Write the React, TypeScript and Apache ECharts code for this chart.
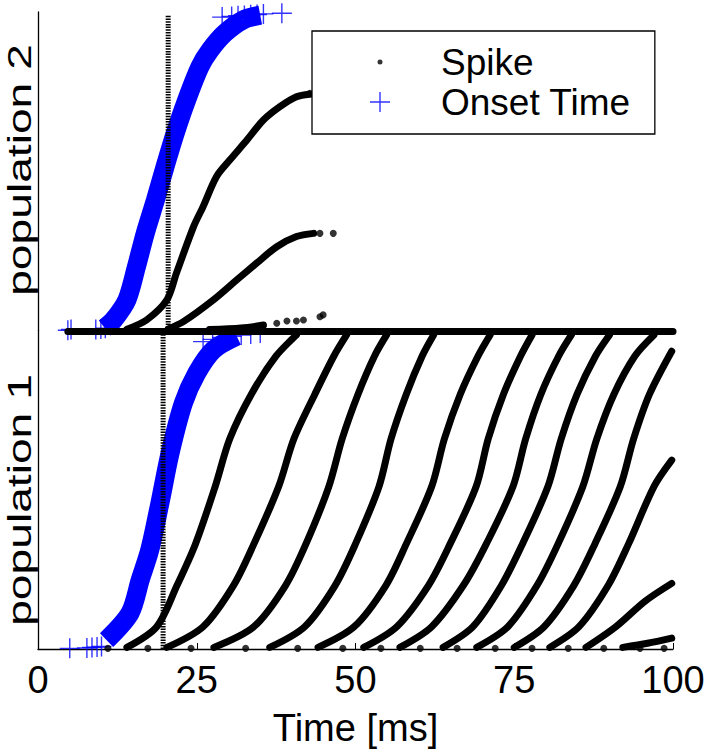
import React, { useEffect, useRef } from "react";
import * as echarts from "echarts";

const FONT = "'Liberation Sans', Arial, Helvetica, sans-serif";
const BLUE = "#0000ff";

const X_TICKS = [0, 25, 50, 75, 100];
const LEGEND_NAMES = ["Spike", "Onset Time"];
const POP_LABELS = ["population 2", "population 1"];
const X_LABEL = "Time [ms]";

// ---- population 2 (top panel): [time ms, neuron rank 0..1000]
const pop2OnsetBand = [[10.5, 8], [11.9, 33], [14.0, 96], [15.5, 200], [16.9, 306], [18.5, 410], [20.0, 514], [21.6, 619], [23.4, 723], [25.5, 828], [27.1, 880], [29.4, 933], [32.3, 975], [35.0, 990]];
const pop2OnsetMarks = [[4.7, 1], [5.2, 3], [9.1, 3], [9.9, 5], [10.6, 7], [29.0, 984], [30.5, 986], [31.5, 988], [32.5, 989], [33.5, 991], [34.5, 992], [35.5, 994], [38.4, 996]];
const pop2Spike1 = [[14.0, 4], [17.1, 33], [20.3, 96], [21.8, 180], [24.5, 326], [26.0, 389], [28.1, 483], [30.2, 535], [32.9, 598], [35.5, 661], [38.1, 703], [40.7, 734], [42.8, 742]];
const pop2Spike2 = [[20.5, 5], [22.9, 28], [27.6, 96], [31.3, 159], [34.4, 211], [37.6, 263], [40.7, 295], [43.4, 305]];
const pop2Spike3 = [[27.0, 3], [32.0, 8], [35.5, 17]];
const pop2SpikeDots = [[37.6, 23], [39.2, 30], [40.7, 30], [41.8, 33], [44.4, 43], [44.9, 49], [44.4, 305], [46.5, 305], [42.8, 745]];
const pop2MarkerTime = 20.5;

// ---- population 1 (bottom panel)
const pop1OnsetBand = [[10.8, 28], [14.5, 113], [16.1, 217], [17.6, 311], [19.2, 458], [20.8, 615], [22.9, 772], [25.0, 866], [27.6, 939], [31.3, 982]];
const pop1OnsetMarks = [[5.0, 2], [7.7, 3], [8.5, 5], [9.3, 6], [10.0, 8], [26.0, 965], [27.5, 972], [29.0, 978], [30.5, 982], [32.0, 986], [33.5, 989], [35.0, 992]];
const pop1Spikes = [
  [[14.0, 5], [18.7, 70], [21.9, 200], [24.8, 330], [27.9, 510], [30.2, 660], [33.6, 800], [37.5, 920], [40.7, 986]],
  [[20.3, 5], [26.0, 70], [30.8, 200], [34.0, 330], [37.9, 510], [40.3, 660], [43.6, 800], [46.6, 920], [48.6, 986]],
  [[27.7, 5], [34.0, 70], [39.0, 200], [42.2, 330], [45.8, 510], [47.9, 660], [50.4, 800], [53.0, 920], [54.9, 986]],
  [[36.5, 5], [42.0, 70], [46.8, 200], [50.0, 330], [53.7, 510], [55.6, 660], [58.0, 800], [60.5, 920], [62.3, 986]],
  [[44.1, 5], [49.8, 70], [54.8, 200], [58.0, 330], [62.0, 510], [64.0, 660], [66.5, 800], [69.3, 920], [71.2, 986]],
  [[51.3, 5], [56.5, 70], [61.5, 200], [64.9, 330], [69.0, 510], [70.9, 660], [73.3, 800], [76.0, 920], [77.8, 986]],
  [[57.0, 5], [62.0, 70], [67.0, 200], [70.6, 330], [74.8, 510], [76.8, 660], [79.2, 800], [82.0, 920], [84.0, 986]],
  [[63.8, 5], [68.5, 70], [73.0, 200], [76.3, 330], [80.3, 510], [82.4, 660], [84.9, 800], [87.8, 920], [90.0, 986]],
  [[69.1, 5], [74.0, 70], [78.6, 200], [81.9, 330], [85.8, 510], [88.0, 660], [90.7, 800], [94.0, 920], [97.0, 986]],
  [[75.0, 5], [79.7, 70], [84.4, 200], [87.7, 330], [91.7, 510], [93.8, 660], [96.3, 800], [99.8, 935]],
  [[80.6, 5], [85.2, 70], [89.8, 200], [93.0, 330], [97.0, 510], [99.8, 593]],
  [[86.3, 5], [91.0, 70], [95.6, 150], [99.8, 206]],
  [[92.1, 5], [96.0, 18], [99.8, 34]],
];
const pop1SpikeDots = [[11.0, 2], [17.3, 2], [24.1, 2], [32.7, 2], [40.9, 2], [48.0, 2], [54.0, 2], [60.2, 2], [66.0, 2], [72.0, 2], [77.8, 2], [83.5, 2], [89.1, 2], [94.8, 2], [98.6, 2]];
const pop1TopRow = [[4.7, 997], [100, 997]];
const pop1MarkerTime = 19.7;

const PLUS = "path://M9.3,0h1.4v20h-1.4zM0,9.3h20v1.4h-20z";
const LEGEND_DOT = "path://M0,0M66,20M7.5,10A2.5,2.5,0,1,1,12.5,10A2.5,2.5,0,1,1,7.5,10Z";
const LEGEND_PLUS = "path://M0,0M66,20M9.3,0h1.4v20h-1.4zM0,9.3h20v1.4h-20z";

function dotSeries(data: number[][], gi: number) {
  return {
    type: "scatter", name: LEGEND_NAMES[0], xAxisIndex: gi, yAxisIndex: gi, data,
    symbol: "circle", symbolSize: 7, itemStyle: { color: "#000" }, clip: false, z: 3, silent: true,
  };
}
function plusSeries(data: number[][], gi: number) {
  return {
    type: "scatter", name: LEGEND_NAMES[1], xAxisIndex: gi, yAxisIndex: gi, data,
    symbol: PLUS, symbolSize: 20, itemStyle: { color: BLUE }, clip: false, z: 2, silent: true,
  };
}
function spikeLine(data: number[][], gi: number) {
  return {
    type: "line", name: LEGEND_NAMES[0], xAxisIndex: gi, yAxisIndex: gi, data,
    showSymbol: false, smooth: 0.3, clip: false, silent: true, z: 3,
    itemStyle: { color: "#000" }, lineStyle: { color: "#000", width: 7, cap: "round", join: "round" },
  };
}
function bandLine(data: number[][], gi: number) {
  return {
    type: "line", name: LEGEND_NAMES[1], xAxisIndex: gi, yAxisIndex: gi, data,
    showSymbol: false, smooth: 0.3, clip: false, silent: true, z: 2,
    itemStyle: { color: BLUE }, lineStyle: { color: BLUE, width: 19 },
  };
}
function markerLine(t: number, top: number, gi: number) {
  return {
    type: "line", xAxisIndex: gi, yAxisIndex: gi, data: [[t, 0], [t, top]],
    showSymbol: false, clip: false, silent: true, z: 5,
    lineStyle: { color: "#000", width: 5, type: [1.5, 1.2] },
  };
}

function yAxis(gi: number) {
  return {
    gridIndex: gi, type: "value", min: 0, max: 1000,
    axisLine: { show: true, lineStyle: { color: "#000", width: 1.3 } },
    axisTick: { show: false }, axisLabel: { show: false }, splitLine: { show: false },
  };
}

function popLabel(text: string, cy: number) {
  return {
    type: "text", x: 20, y: cy, rotation: Math.PI / 2, scaleX: 1.4, scaleY: 1, silent: true,
    style: { text, fontSize: 33, fontFamily: FONT, fill: "#000", align: "center", verticalAlign: "middle" },
  };
}

export default function App() {
  const ref = useRef<HTMLDivElement>(null);
  useEffect(() => {
    const chart = echarts.init(ref.current!, null, { renderer: "svg" });
    const option = {
      animation: false,
      backgroundColor: "#fff",
      textStyle: { fontFamily: FONT },
      grid: [
        { left: 38, right: 36, top: 12, height: 318.5, outerBoundsMode: "none", containLabel: false },
        { left: 38, right: 36, top: 330.5, height: 318.5, outerBoundsMode: "none", containLabel: false },
      ],
      xAxis: [
        { gridIndex: 0, type: "value", min: 0, max: 100, show: false },
        {
          gridIndex: 1, type: "value", min: X_TICKS[0], max: X_TICKS[X_TICKS.length - 1], interval: 25,
          axisLine: { lineStyle: { color: "#000", width: 1.3 } },
          axisTick: { inside: true, length: 6, lineStyle: { color: "#000" } },
          axisLabel: { fontSize: 38, color: "#000", margin: 12, fontFamily: FONT },
          splitLine: { show: false },
          name: X_LABEL, nameLocation: "middle", nameGap: 60,
          nameTextStyle: { fontSize: 38, color: "#000", fontFamily: FONT },
        },
      ],
      yAxis: [yAxis(0), yAxis(1)],
      legend: {
        data: [{ name: LEGEND_NAMES[0], icon: LEGEND_DOT }, { name: LEGEND_NAMES[1], icon: LEGEND_PLUS }],
        orient: "vertical", left: 312, top: 31, itemWidth: 66, itemHeight: 20, itemGap: 0,
        padding: [11, 24, 12, 58], borderColor: "#000", borderWidth: 1.3, backgroundColor: "#fff",
        selectedMode: false, textStyle: { fontSize: 37, lineHeight: 40, color: "#000", fontFamily: FONT },
      },
      graphic: [popLabel(POP_LABELS[0], 170), popLabel(POP_LABELS[1], 500)],
      series: [
        dotSeries(pop2SpikeDots, 0),
        plusSeries(pop2OnsetMarks, 0),
        bandLine(pop2OnsetBand, 0),
        spikeLine(pop2Spike1, 0),
        spikeLine(pop2Spike2, 0),
        spikeLine(pop2Spike3, 0),
        markerLine(pop2MarkerTime, 990, 0),
        dotSeries(pop1SpikeDots, 1),
        plusSeries(pop1OnsetMarks, 1),
        bandLine(pop1OnsetBand, 1),
        ...pop1Spikes.map((d) => spikeLine(d, 1)),
        spikeLine(pop1TopRow, 1),
        markerLine(pop1MarkerTime, 1000, 1),
      ],
    };
    chart.setOption(option as any);
    return () => chart.dispose();
  }, []);
  return <div ref={ref} style={{ position: "fixed", left: 0, top: 0, width: 709, height: 754 }} />;
}
